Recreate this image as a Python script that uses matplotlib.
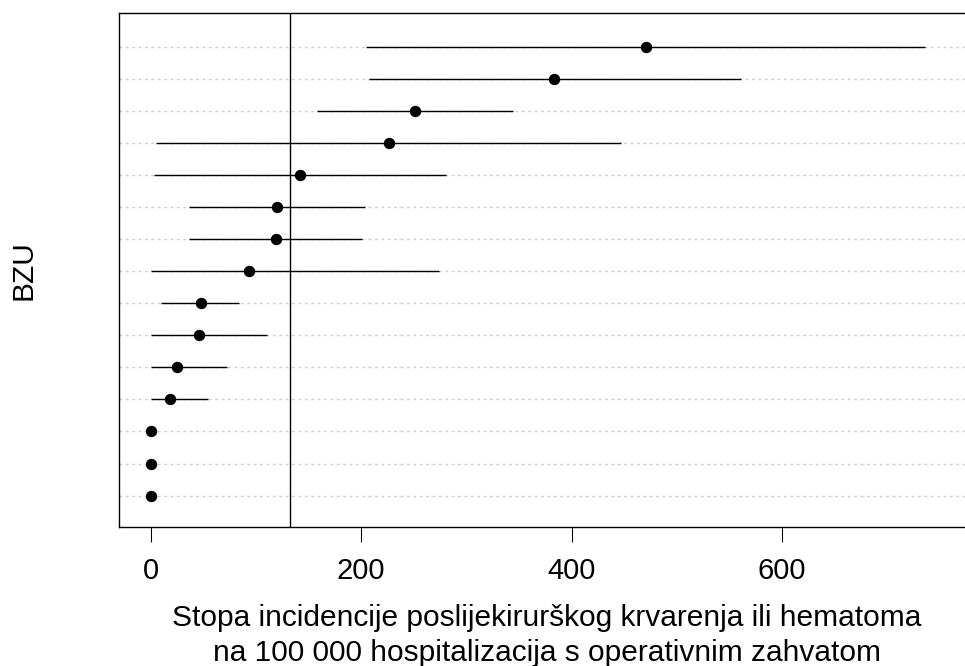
import matplotlib.pyplot as plt
import numpy as np

plt.rcParams['font.family'] = ['Liberation Sans', 'DejaVu Sans']

# incidence per 100 000 hospitalisations with surgery, one row per BZU (top to bottom)
rates = [470.5, 383.0, 251.3, 226.0, 141.4, 120.2, 118.6, 93.0, 47.4, 45.8, 25.2, 18.6, 0.0, 0.0, 0.0]
ci_low = [204.5, 207.3, 157.6, 4.9, 3.0, 36.6, 36.6, 0.2, 9.7, 0.0, 0.0, 0.0, 0.0, 0.0, 0.0]
ci_high = [735.5, 560.5, 343.8, 446.7, 280.5, 203.5, 201.0, 273.5, 83.8, 110.0, 72.0, 54.0, 0.0, 0.0, 0.0]
overall_rate = 132.0

xticks = [0, 200, 400, 600]
xlabel = ('Stopa incidencije poslijekirurškog krvarenja ili hematoma\n'
          'na 100 000 hospitalizacija s operativnim zahvatom')
ylabel = 'BZU'


def make_plot():
    n = len(rates)
    ypos = np.arange(n, 0, -1)  # first row on top

    fig = plt.figure(figsize=(9.65, 6.66), dpi=100)
    ax = fig.add_axes([0.1236, 0.2092, 0.88, 0.7708])

    # dotted guide line for every row
    for y in ypos:
        ax.axhline(y, color='#cfcfcf', lw=1.0, linestyle=(0, (2, 2.6)), zorder=1)

    ax.hlines(ypos, ci_low, ci_high, color='black', lw=1.0, zorder=2)
    ax.plot(rates, ypos, 'o', color='black', markersize=7.2, zorder=3)
    ax.axvline(overall_rate, color='black', lw=1.0, zorder=2)

    ax.set_xlim(-29.9, 777)
    ax.set_ylim(0.03, 16.04)
    ax.set_yticks([])
    ax.set_xticks(xticks)
    ax.tick_params(axis='x', length=10.8, width=0.75, pad=11, labelsize=21)

    for sp in ax.spines.values():
        sp.set_linewidth(1.0)

    ax.set_xlabel(xlabel, fontsize=21.5, linespacing=1.3)
    ax.xaxis.set_label_coords(0.5036, -0.1505)
    ax.set_ylabel(ylabel, fontsize=21.5, va='center')
    ax.yaxis.set_label_coords(-0.1125, 0.5)

    fig.savefig('out.png', dpi=100)


if __name__ == "__main__":
    make_plot()
